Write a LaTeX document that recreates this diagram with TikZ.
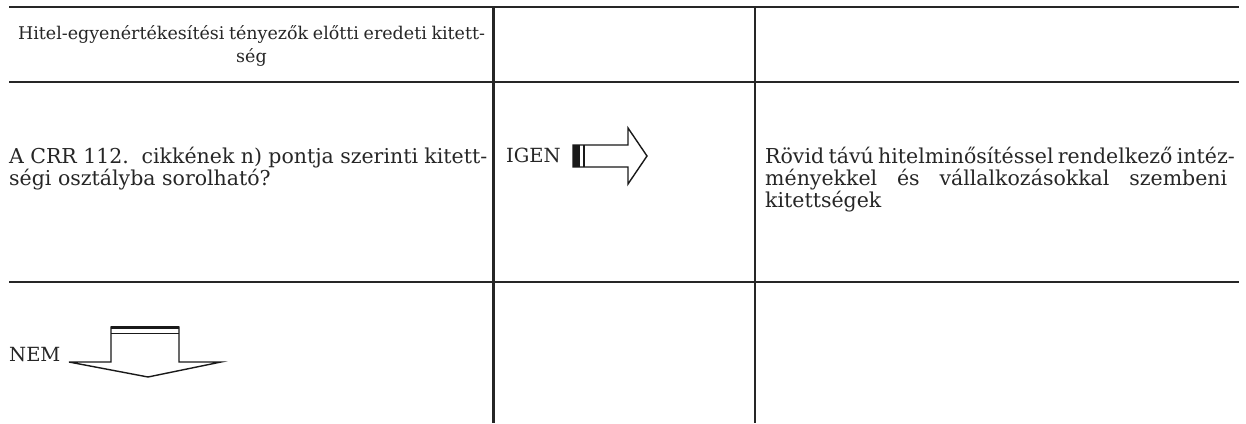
\documentclass[tikz,border=0pt]{standalone}
\usepackage{fontspec}
\setmainfont{DejaVu Serif}
\begin{document}
\begin{tikzpicture}[x=1pt,y=-1pt,
  rule/.style={line width=2.2pt, draw=black!85},
  arr/.style={line width=1.4pt, draw=black!90, line join=miter},
  txt/.style={inner sep=0pt, anchor=base west, font=\fontsize{20.5}{22}\selectfont, text=black!85},
  caps/.style={txt, font=\fontsize{19.5}{22}\selectfont},
  hdr/.style={inner sep=0pt, anchor=base, font=\fontsize{17.5}{22}\selectfont, text=black!85}]
\useasboundingbox (0,0) rectangle (1246,423);
% table rules
\draw[rule] (9,7) -- (1239,7);
\draw[rule] (9,82) -- (1239,82);
\draw[rule] (9,282) -- (1239,282);
\draw[rule] (493.5,7) -- (493.5,423);
\draw[rule] (755,7) -- (755,423);
% header
\node[hdr] (h1) at (251.5,39) {\makebox[467pt][s]{Hitel-egyenértékesítési tényezők előtti eredeti kitett-}};
\node[hdr] (h2) at (251.5,62) {ség};
% question
\node[txt] (q1) at (9,163) {\makebox[478pt][s]{A CRR 112.\ \ cikkének n) pontja szerinti kitett-}};
\node[txt] (q2) at (9,185) {ségi osztályba sorolható?};
% yes
\node[caps] (igen) at (506,162) {IGEN};
\draw[arr] (573,145) -- (628,145) -- (628,128) -- (647,156) -- (628,184) -- (628,167) -- (573,167) -- cycle;
\fill[black!90] (573,145) rectangle (579.5,167);
\draw[line width=1.4pt, black!90] (584,145) -- (584,167);
% result
\node[txt] (r1) at (765,163) {\makebox[462pt][s]{Rövid távú hitelminősítéssel rendelkező intéz-}};
\node[txt] (r2) at (765,185) {\makebox[462pt][s]{ményekkel és vállalkozásokkal szembeni}};
\node[txt] (r3) at (765,207) {kitettségek};
% no
\node[caps] (nem) at (9,361) {NEM};
\draw[arr] (111,327) -- (179,327) -- (179,362) -- (221,362) -- (148,377) -- (69,362) -- (111,362) -- cycle;
\draw[line width=3pt, black!90] (111,327.5) -- (179,327.5);
\draw[line width=1.4pt, black!90] (111,333.5) -- (179,333.5);
\end{tikzpicture}
\end{document}
